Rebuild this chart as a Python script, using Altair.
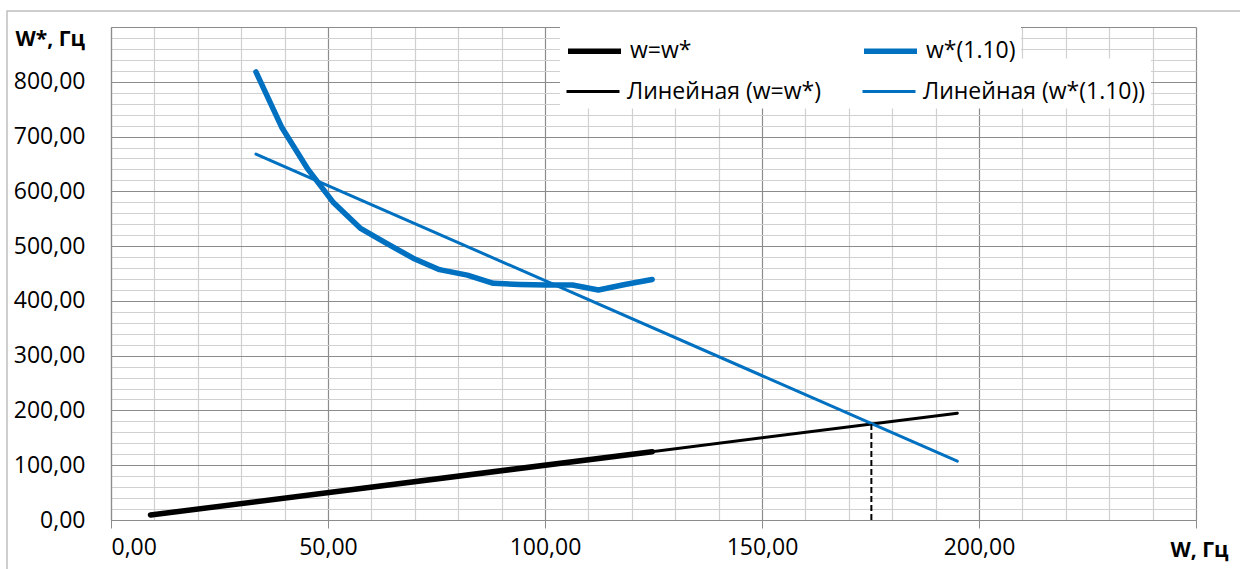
import altair as alt
import pandas as pd

# ---- data ----
data_names = ["w=w*", "w*(1.10)"]
trend_names = ["Линейная (w=w*)", "Линейная (w*(1.10))"]
series_colors = ["#000000", "#0070C0"]

w_x = [9.1, 124.7]
w_y = [9.1, 124.7]

ws_x = [33.4, 39.4, 45.4, 51.3, 57.4, 63.5, 69.6, 75.7, 82.1, 88.1, 94.2,
        100.3, 106.3, 112.3, 118.4, 124.7]
ws_y = [818, 716, 640, 579, 533, 505, 478, 457, 447, 432, 430,
        429, 429, 420, 430, 439]

trend_w_x = [9.1, 195.0]
trend_w_y = [9.1, 195.0]
trend_ws_x = [33.4, 195.0]
trend_ws_y = [668.0, 107.5]

cross_x = [175.2, 175.2]
cross_y = [0.0, 176.0]

x_ticks = list(range(0, 251, 10))
y_ticks = list(range(0, 901, 20))


def make_df(items):
    rows = []
    for name, xs, ys in items:
        for i, (a, b) in enumerate(zip(xs, ys)):
            rows.append({"series": name, "x": a, "y": b, "i": i})
    return pd.DataFrame(rows)


df_data = make_df([(data_names[0], w_x, w_y), (data_names[1], ws_x, ws_y)])
df_trend = make_df([(trend_names[0], trend_w_x, trend_w_y),
                    (trend_names[1], trend_ws_x, trend_ws_y)])
df_cross = pd.DataFrame({"x": cross_x, "y": cross_y, "i": [0, 1]})

FONT = "Open Sans"
LFS = 23


def fmt(step, maxv):
    return (f"datum.value % {step} === 0 && datum.value < {maxv} ? "
            "replace(format(datum.value, '.2f'), '.', ',') : ''")


x_enc = alt.X("x:Q",
              scale=alt.Scale(domain=[0, 250], nice=False, zero=False),
              axis=alt.Axis(values=x_ticks, tickCount=200, labelExpr=fmt(50, 250),
                            labelOverlap=False,
                            grid=True,
                            gridColor={"condition": {"test": "datum.value % 50 === 0", "value": "#8c8c8c"}, "value": "#d0d0d0"},
                            gridWidth=1.2,
                            tickColor={"condition": {"test": "datum.value % 50 === 0", "value": "#8c8c8c"}, "value": "transparent"},
                            tickSize=8, labelPadding=8,
                            domainColor="#8c8c8c", domainWidth=1.2,
                            labelFont=FONT, labelFontSize=23, labelColor="#000000",
                            title="W, Гц", titleFont=FONT, titleFontSize=21,
                            titleFontWeight="bold", titleColor="#000000",
                            titleAngle=0, titleAlign="right", titleBaseline="middle",
                            titleX=1117, titleY=30))
y_enc = alt.Y("y:Q",
              scale=alt.Scale(domain=[0, 900], nice=False),
              axis=alt.Axis(values=y_ticks, tickCount=200, labelExpr=fmt(100, 900),
                            labelOverlap=False,
                            grid=True,
                            gridColor={"condition": {"test": "datum.value % 100 === 0", "value": "#8c8c8c"}, "value": "#d0d0d0"},
                            gridWidth=1.2,
                            ticks=False, tickSize=0, labelPadding=26,
                            domainColor="#8c8c8c", domainWidth=1.2,
                            labelFont=FONT, labelFontSize=23, labelColor="#000000",
                            title="W*, Гц", titleFont=FONT, titleFontSize=21,
                            titleFontWeight="bold", titleColor="#000000",
                            titleAngle=0, titleAlign="left", titleBaseline="middle",
                            titleX=-96, titleY=12))

legend_common = dict(
    title=None, orient="none", fillColor="white", padding=5,
    columns=2, direction="horizontal",
    symbolType="stroke", symbolSize=2809,
    labelFont=FONT, labelFontSize=LFS, labelColor="#000000",
    labelOffset=6, labelLimit=500,
)

data_lines = alt.Chart(df_data).mark_line(
    strokeWidth=5.5, strokeCap="round", strokeJoin="round").encode(
    x=x_enc,
    y=y_enc,
    color=alt.Color("series:N",
                    scale=alt.Scale(domain=data_names, range=series_colors),
                    legend=alt.Legend(legendX=449, legendY=-10.5,
                                      columnPadding=161, symbolStrokeWidth=5.5,
                                      zindex=2, **legend_common)),
    detail="series:N",
    order="i:Q",
)

trend_lines = alt.Chart(df_trend).mark_line(
    strokeWidth=3, strokeCap="round").encode(
    x="x:Q",
    y="y:Q",
    stroke=alt.Stroke("series:N",
                      scale=alt.Scale(domain=trend_names, range=series_colors),
                      legend=alt.Legend(legendX=449, legendY=31.5,
                                        columnPadding=35, symbolStrokeWidth=3,
                                        zindex=1, **legend_common)),
    detail="series:N",
    order="i:Q",
)

cross = alt.Chart(df_cross).mark_line(color="#000000", strokeWidth=2,
                                      strokeDash=[6, 3]).encode(
    x="x:Q", y="y:Q", order="i:Q")

frame = alt.Chart(pd.DataFrame({"k": [0]})).mark_rect(
    fillOpacity=0, stroke="#bfbfbf", strokeWidth=1.5).encode(
    x=alt.value(-104), x2=alt.value(1140), y=alt.value(-16), y2=alt.value(560))

chart = alt.layer(frame, data_lines, trend_lines, cross).properties(
    width=1085, height=493,
    padding={"left": 111, "top": 27, "right": 44, "bottom": 49},
    autosize=alt.AutoSizeParams(type="none"),
    background="white",
).configure_view(strokeWidth=0)

chart.save("out.html", embed_options={"renderer": "svg", "actions": False})
